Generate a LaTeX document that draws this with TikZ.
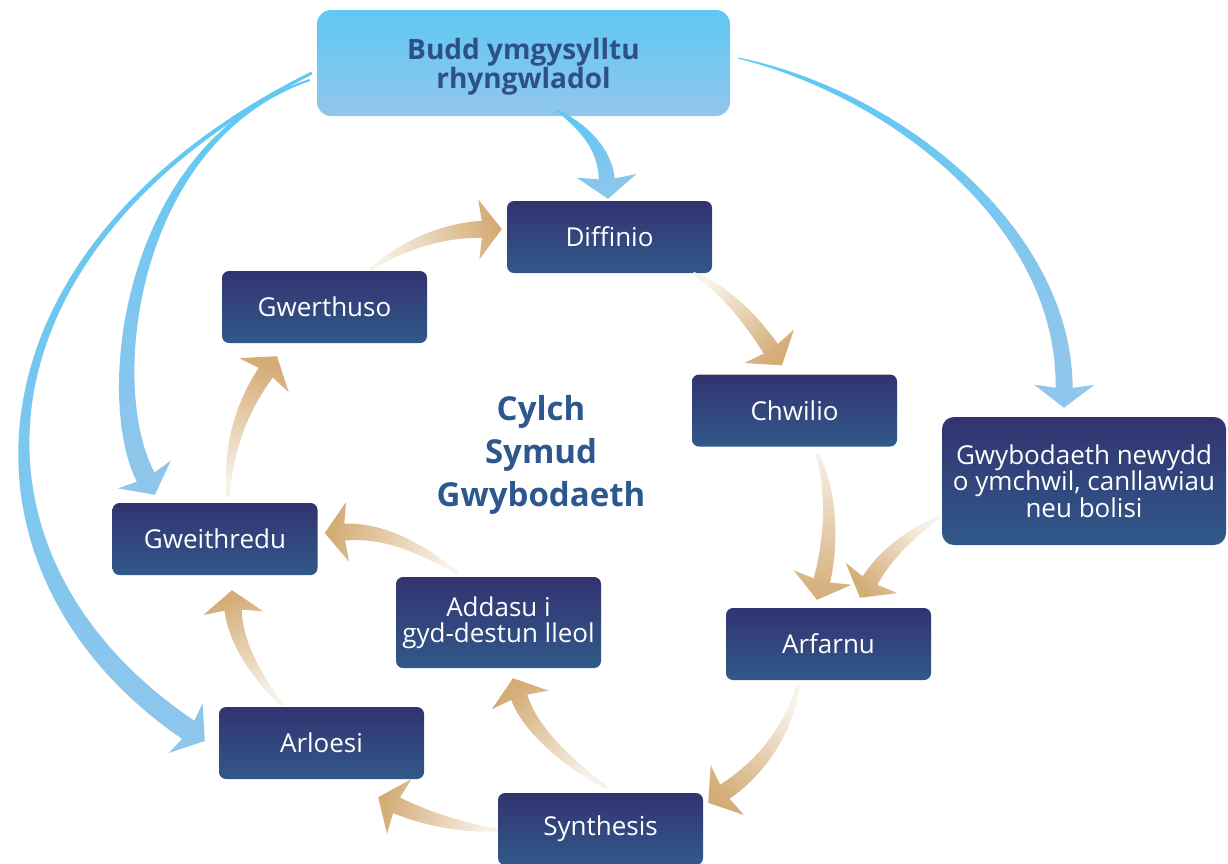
\documentclass[tikz,border=0pt]{standalone}
\usepackage{fontspec}
\setmainfont{Open Sans}
\usetikzlibrary{calc}

\definecolor{stepdark}{RGB}{50,51,112}
\definecolor{stepblue}{RGB}{49,89,138}
\definecolor{topcyan}{RGB}{94,200,243}
\definecolor{toplight}{RGB}{146,198,236}
\definecolor{titleblue}{RGB}{45,80,135}
\definecolor{cycleblue}{RGB}{44,88,142}
\definecolor{tanhead}{RGB}{212,172,118}
\definecolor{tantail}{RGB}{247,241,232}
\definecolor{bluetail}{RGB}{96,200,242}
\definecolor{bluehead}{RGB}{143,198,236}

\def\HEADLEN{20}
\def\BARBPOS{23}
\def\HEADW{30}

% tapered curved arrow: #1 style, #2 tail, #3 #4 controls, #5 tip, #6 tail width, #7 body width
\newcommand{\flowarrow}[7]{%
  \coordinate (fa-s) at #2;
  \coordinate (fa-a) at #3;
  \coordinate (fa-b) at #4;
  \coordinate (fa-t) at #5;
  \coordinate (fa-e) at ($(fa-t)!\HEADLEN pt!(fa-b)$);
  \coordinate (fa-h) at ($(fa-t)!\BARBPOS pt!(fa-b)$);
  \pgfmathsetmacro\faa{#6+0.55*(#7-#6)}
  \pgfmathsetmacro\fab{#6+0.85*(#7-#6)}
  \pgfmathanglebetweenpoints{\pgfpointanchor{fa-s}{center}}{\pgfpointanchor{fa-t}{center}}
  \pgfmathsetmacro\faang{\pgfmathresult-90}
  \shade[#1, shading angle=\faang]
    ($(fa-s)!#6pt!-90:(fa-a)$) .. controls ($(fa-a)!\faa pt!-90:(fa-b)$)
      and ($(fa-b)!\fab pt!-90:(fa-e)$) .. ($(fa-e)!#7pt!90:(fa-b)$)
    -- ($(fa-h)!\HEADW pt!90:(fa-b)$) -- (fa-t) -- ($(fa-h)!\HEADW pt!-90:(fa-b)$)
    -- ($(fa-e)!#7pt!-90:(fa-b)$) .. controls ($(fa-b)!\fab pt!90:(fa-e)$)
      and ($(fa-a)!\faa pt!90:(fa-b)$) .. ($(fa-s)!#6pt!90:(fa-a)$) -- cycle;
}

\begin{document}
\begin{tikzpicture}[x=1pt, y=-1pt,
  stepbox/.style={rounded corners=7pt, top color=stepdark, bottom color=stepblue,
    text=white, align=center, inner sep=0pt, minimum width=205pt,
    minimum height=72pt, font=\fontsize{26}{26.5}\selectfont},
  topbox/.style={rounded corners=14pt, top color=topcyan, bottom color=toplight,
    text=titleblue, align=center, inner sep=0pt, minimum width=413pt,
    minimum height=106pt, text depth=-3pt, font=\bfseries\fontsize{28}{29}\selectfont},
  tanflow/.style={top color=tanhead, bottom color=tantail},
  blueflow/.style={top color=bluehead, bottom color=bluetail}]

\useasboundingbox (0,0) rectangle (1228,863);

\node[topbox] (top) at (523.5,63) {Budd ymgysylltu\\rhyngwladol};

\foreach \n/\x/\y/\t in {diff/609.5/237/Diffinio, gwer/324.5/307/Gwerthuso,
    chwi/794.5/410.5/Chwilio, gwei/215/539/Gweithredu, arfa/828.5/644/Arfarnu,
    arlo/321.5/743/Arloesi, synt/600.5/829/Synthesis} {
  \node[stepbox] (\n) at (\x,\y) {\t};
}
\node[stepbox, minimum height=91pt] (adda) at (498.5,622.5)
  {Addasu i\\gyd-destun lleol};
\node[stepbox, minimum width=284pt, minimum height=128pt, rounded corners=12pt]
  (gwyb) at (1084,481) {Gwybodaeth newydd\\o ymchwil, canllawiau\\neu bolisi};

\node[text=cycleblue, align=center, font=\bfseries\fontsize{33}{43}\selectfont]
  (cylch) at (541,455) {Cylch\\Symud\\Gwybodaeth};

% the cycle
\flowarrow{tanflow}{($(gwer.north)+(45.5,-1)$)}{(410,240)}{(450,230)}{($(diff.west)+(-5,-8)$)}{1.5}{8.5}
\flowarrow{tanflow}{($(diff.south east)+(-19,0)$)}{(725,290)}{(750,318)}{($(chwi.north)+(-12.5,-9)$)}{1.5}{8.5}
\flowarrow{tanflow}{($(chwi.south)+(22.5,7)$)}{(832,490)}{(832,540)}{($(arfa.north)+(-11.5,-8)$)}{1.5}{8.5}
\flowarrow{tanflow}{($(gwyb.west)+(-2,36)$)}{(912,532)}{(885,555)}{($(arfa.north)+(31.5,-10)$)}{1.5}{8.5}
\flowarrow{tanflow}{($(arfa.south)+(-30.5,5)$)}{(790,725)}{(765,765)}{($(synt.north east)+(5,10)$)}{1.5}{8.5}
\flowarrow{tanflow}{($(synt.north)+(6.5,-5)$)}{(570,765)}{(530,730)}{($(adda.south)+(14.5,10)$)}{1.5}{8.5}
\flowarrow{tanflow}{($(synt.west)+(0,1)$)}{(460,828)}{(425,818)}{($(arlo.south east)+(-46,18)$)}{1.5}{8.5}
\flowarrow{tanflow}{($(adda.north)+(-41.5,-4)$)}{(420,548)}{(385,530)}{($(gwei.east)+(7,-6)$)}{1.5}{8.5}
\flowarrow{tanflow}{($(arlo.north)+(-39.5,-2)$)}{(255,675)}{(235,640)}{($(gwei.south)+(17,15)$)}{1.5}{8.5}
\flowarrow{tanflow}{($(gwei.north)+(13,-6)$)}{(228,450)}{(240,410)}{($(gwer.south)+(-47.5,13)$)}{1.5}{8.5}

% international links
\flowarrow{blueflow}{($(top.south)+(33.5,-6)$)}{(585,128)}{(605,150)}{($(diff.north)+(-1.5,-2)$)}{1}{8}
\flowarrow{blueflow}{($(top.east)+(8,-5)$)}{(900,95)}{(1065,230)}{($(gwyb.north)+(-20,-9)$)}{0.5}{8.5}
\flowarrow{blueflow}{($(top.west)+(-7,17)$)}{(130,140)}{(100,390)}{($(gwei.north)+(-60,-8)$)}{1}{10}
\flowarrow{blueflow}{($(top.west)+(-5,10)$)}{(-40,250)}{(-55,565)}{($(arlo.west)+(-14,-2)$)}{1.5}{11}

\end{tikzpicture}
\end{document}
